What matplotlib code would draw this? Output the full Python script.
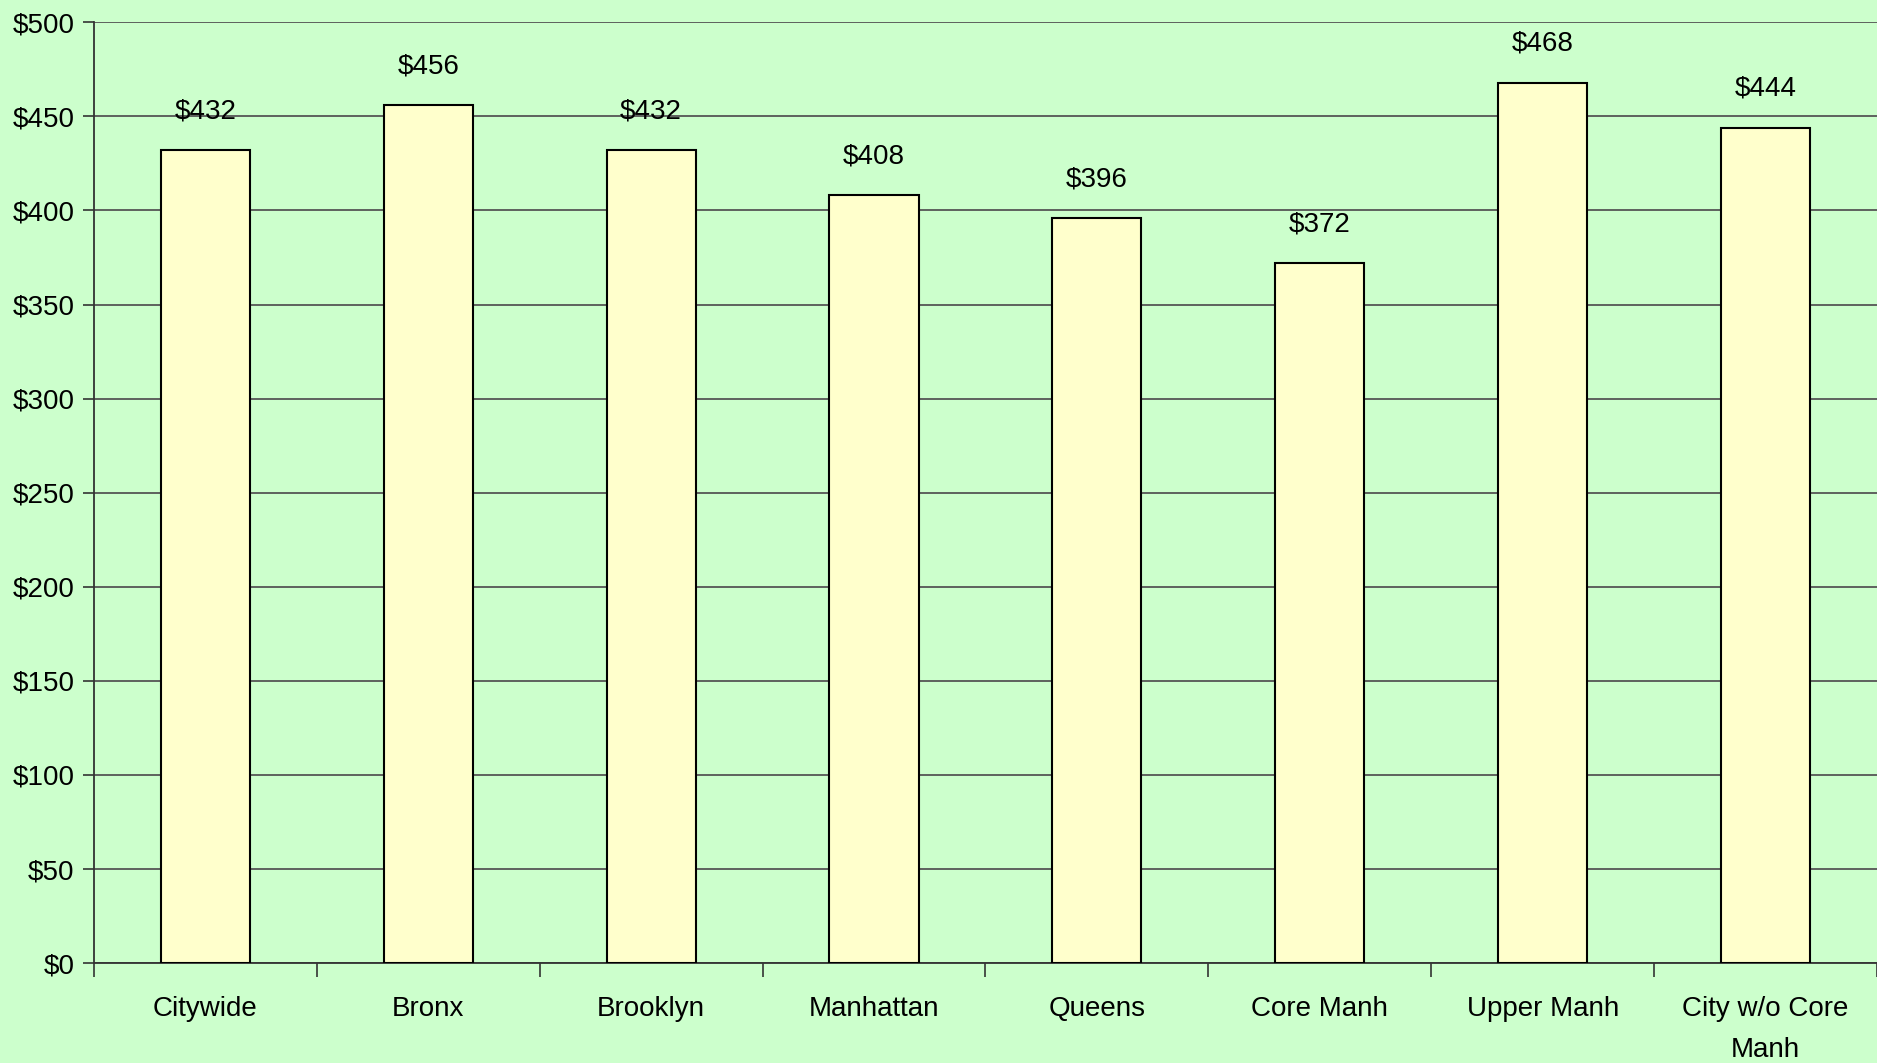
import matplotlib.pyplot as plt
import numpy as np
from matplotlib import font_manager

categories = ['Citywide', 'Bronx', 'Brooklyn', 'Manhattan', 'Queens',
              'Core Manh', 'Upper Manh', 'City w/o Core\nManh']
values = [432, 456, 432, 408, 396, 372, 468, 444]
yticks = np.arange(0, 501, 50)

names = {f.name for f in font_manager.fontManager.ttflist}
fam = ['Liberation Sans Narrow', 'Liberation Sans', 'DejaVu Sans']
plt.rcParams['font.family'] = [f for f in fam if f in names] or ['DejaVu Sans']

bg = '#CCFFCC'
fig = plt.figure(figsize=(18.77, 10.63), dpi=100, facecolor=bg)
ax = fig.add_axes([0.050, 0.094, 0.950, 0.885])
ax.set_facecolor(bg)

ind = np.arange(len(categories))
bars = ax.bar(ind, values, width=0.4, color='#FFFFCC', edgecolor='black',
              linewidth=1.5, zorder=3)
for b, v in zip(bars, values):
    ax.annotate(f'${v}', (b.get_x() + b.get_width() / 2, v), xytext=(0, 28),
                textcoords='offset points', ha='center', va='center', fontsize=20)

ax.set_xlim(-0.5, len(categories) - 0.5)
ax.set_ylim(0, 500)
ax.set_yticks(yticks)
ax.set_yticklabels([f'${t}' for t in yticks], fontsize=20)
ax.yaxis.grid(True, color='#555555', linewidth=1.3, zorder=0)
ax.tick_params(axis='y', length=8, width=1.2, color='#333333', pad=6)

# boundary ticks, labels at centers
ax.set_xticks(np.arange(-0.5, len(categories), 1.0))
ax.set_xticklabels([])
ax.tick_params(axis='x', which='major', length=10, width=1.2, color='#333333')
ax.set_xticks(ind, minor=True)
ax.set_xticklabels(categories, minor=True, fontsize=20, linespacing=1.75)
ax.tick_params(axis='x', which='minor', length=0, pad=24)

for s in ['top', 'right']:
    ax.spines[s].set_visible(False)
ax.spines['left'].set_color('#333333')
ax.spines['bottom'].set_color('#333333')
ax.spines['left'].set_linewidth(1.3)
ax.spines['bottom'].set_linewidth(1.3)

fig.savefig('out.png', dpi=100, facecolor=bg)
